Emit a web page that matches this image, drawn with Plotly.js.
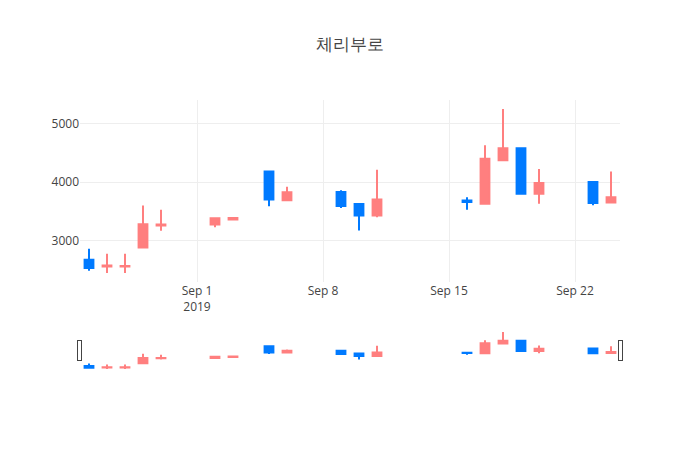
<!DOCTYPE html>
<html>
<head>
<meta charset="utf-8">
<script src="https://cdn.plot.ly/plotly-3.0.1.min.js"></script>
<style>
  html, body { margin: 0; padding: 0; background: #fff; }
  #chart { width: 700px; height: 450px; }
</style>
</head>
<body>
<div id="chart"></div>
<script>
/* 체리부로 daily candles, late Aug - Sep 2019 */
const dates = [
    '2019-08-26', '2019-08-27', '2019-08-28', '2019-08-29', '2019-08-30',
    '2019-09-02', '2019-09-03', '2019-09-05', '2019-09-06',
    '2019-09-09', '2019-09-10', '2019-09-11',
    '2019-09-16', '2019-09-17', '2019-09-18', '2019-09-19', '2019-09-20',
    '2019-09-23', '2019-09-24',
];
const openPrices = [
    2670, 2555, 2555, 2880, 3255,
    3275, 3360, 4180, 3690,
    3830, 3625, 3430,
    3685, 3630, 4375, 4580, 3800,
    4000, 3650,
];
const highPrices = [
    2860, 2775, 2775, 3600, 3525,
    3390, 3390, 4180, 3920,
    3860, 3625, 4210,
    3740, 4630, 5250, 4580, 4225,
    4000, 4180,
];
const lowPrices = [
    2480, 2445, 2445, 2875, 3165,
    3225, 3355, 3585, 3685,
    3555, 3170, 3400,
    3525, 3630, 4375, 3800, 3630,
    3605, 3645,
];
const closePrices = [
    2530, 2570, 2565, 3280, 3275,
    3380, 3385, 3700, 3825,
    3590, 3430, 3700,
    3660, 4400, 4580, 3800, 3985,
    3640, 3740,
];

const trace = {
    type: 'candlestick',
    x: dates,
    open: openPrices,
    high: highPrices,
    low: lowPrices,
    close: closePrices,
    increasing: { line: { color: '#FF7F7F' }, fillcolor: '#FF7F7F' },
    decreasing: { line: { color: '#007AFF' }, fillcolor: '#007AFF' },
    showlegend: false,
};

const layout = {
    width: 700,
    height: 450,
    title: { text: '체리부로' },
    paper_bgcolor: '#fff',
    plot_bgcolor: '#fff',
    xaxis: { rangeslider: { visible: true } },
    yaxis: {},
};

Plotly.newPlot('chart', [trace], layout, { displayModeBar: false });
</script>
</body>
</html>
